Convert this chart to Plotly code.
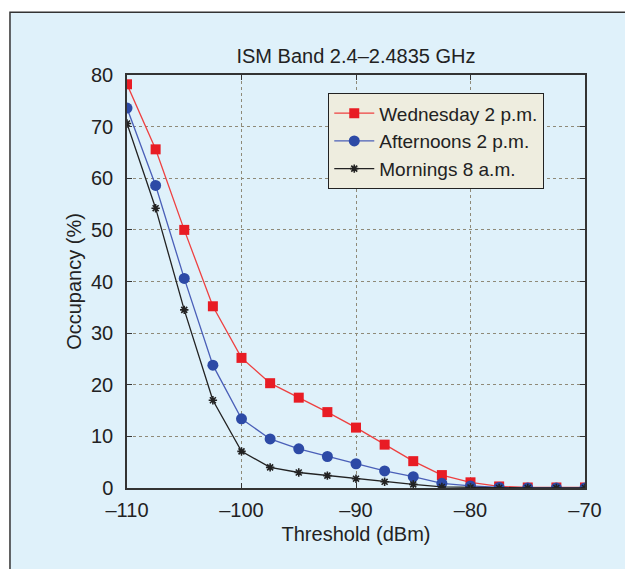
import plotly.graph_objects as go

thresholds = [-110, -107.5, -105, -102.5, -100, -97.5, -95, -92.5, -90,
              -87.5, -85, -82.5, -80, -77.5, -75, -72.5, -70]
wednesday = [78.2, 65.6, 50.0, 35.2, 25.2, 20.3, 17.5, 14.7, 11.7,
             8.4, 5.2, 2.5, 1.1, 0.3, 0.1, 0.1, 0.1]
afternoons = [73.6, 58.6, 40.6, 23.8, 13.4, 9.5, 7.6, 6.1, 4.7,
              3.3, 2.2, 0.9, 0.4, 0.1, 0.0, 0.0, 0.0]
mornings = [70.6, 54.2, 34.5, 17.0, 7.1, 4.0, 3.0, 2.4, 1.8,
            1.2, 0.7, 0.2, 0.1, 0.0, 0.0, 0.0, 0.0]

x_ticks = [-110, -100, -90, -80, -70]
x_ticktext = ["–110", "–100", "–90", "–80", "–70"]
y_ticks = [0, 10, 20, 30, 40, 50, 60, 70, 80]

FONT = "Liberation Sans, Arial, sans-serif"
FS = 20

fig = go.Figure()
fig.add_trace(go.Scatter(x=thresholds, y=wednesday, name="Wednesday 2 p.m.",
                         mode="lines+markers",
                         line=dict(color="#ee4040", width=1.3),
                         marker=dict(symbol="square", size=10, color="#e81c24")))
fig.add_trace(go.Scatter(x=thresholds, y=afternoons, name="Afternoons 2 p.m.",
                         mode="lines+markers",
                         line=dict(color="#4a5fb8", width=1.3),
                         marker=dict(symbol="circle", size=11, color="#2d4aa6")))
fig.add_trace(go.Scatter(x=thresholds, y=mornings, name="Mornings 8 a.m.",
                         mode="lines+markers",
                         line=dict(color="#222222", width=1.3),
                         marker=dict(symbol="asterisk-open", size=7,
                                     line=dict(color="#111111", width=1.6))))

axis_common = dict(showline=True, linecolor="#333333", linewidth=1.5, mirror="ticks",
                   ticks="inside", ticklen=5, tickcolor="#333333",
                   showgrid=True, gridcolor="#8f8a78", griddash="dot", gridwidth=1,
                   zeroline=False,
                   tickfont=dict(family=FONT, size=FS, color="#222222"))

fig.update_xaxes(range=[-110, -70], tickvals=x_ticks, ticktext=x_ticktext,
                 ticklabelstandoff=3,
                 title=dict(text="Threshold (dBm)", standoff=7,
                            font=dict(family=FONT, size=FS, color="#222222")),
                 **axis_common)
fig.update_yaxes(range=[0, 80], tickvals=y_ticks, ticklabelstandoff=8,
                 title=dict(text="Occupancy (%)", standoff=4,
                            font=dict(family=FONT, size=FS, color="#222222")),
                 **axis_common)

fig.add_shape(type="rect", xref="paper", yref="paper",
              x0=-0.2555, x1=1.10, y0=-0.25, y1=1.152,
              fillcolor="#dff1fa", line=dict(color="#333333", width=1.5), layer="below")

fig.update_layout(
    width=625, height=561,
    margin=dict(l=119, r=48, t=67, b=81),
    paper_bgcolor="white",
    plot_bgcolor="#fdefc4",
    title=dict(text="ISM Band 2.4–2.4835 GHz", xref="paper", x=0.5, xanchor="center",
               yref="container", y=1 - 48 / 561, yanchor="middle",
               font=dict(family=FONT, size=FS, color="#222222")),
    legend=dict(x=0.439, y=0.956, xanchor="left", yanchor="top",
                bgcolor="#eeeddf", bordercolor="#222222", borderwidth=1.2,
                font=dict(family=FONT, size=19, color="#222222"),
                tracegroupgap=0, itemwidth=40),
    showlegend=True,
)

fig.write_html("out.html")
